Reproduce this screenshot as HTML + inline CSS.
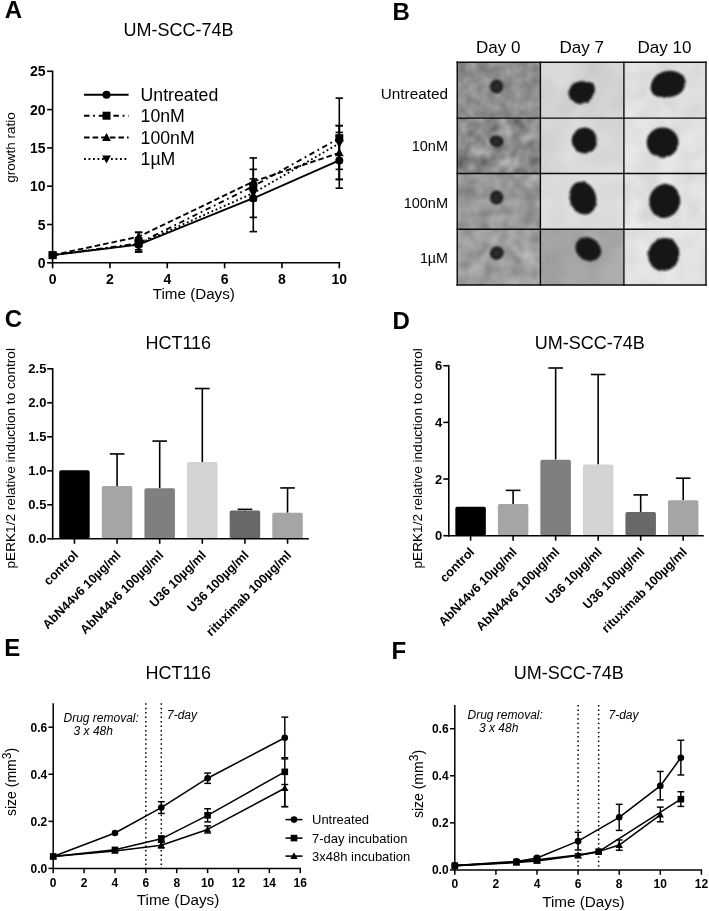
<!DOCTYPE html>
<html><head><meta charset="utf-8"><title>Figure</title>
<style>html,body{margin:0;padding:0;background:#fff;}svg{display:block;will-change:transform;}svg text{font-family:"Liberation Sans",sans-serif;}</style></head>
<body>
<svg width="709" height="911" viewBox="0 0 709 911" fill="#000">
<rect width="709" height="911" fill="#fff"/>
<text x="4.65" y="17.90" font-size="24" text-anchor="start" font-weight="bold" font-style="normal" >A</text>
<text x="392.40" y="20.10" font-size="24" text-anchor="start" font-weight="bold" font-style="normal" >B</text>
<text x="4.65" y="327.20" font-size="24" text-anchor="start" font-weight="bold" font-style="normal" >C</text>
<text x="392.40" y="329.20" font-size="24" text-anchor="start" font-weight="bold" font-style="normal" >D</text>
<text x="4.35" y="656.10" font-size="24" text-anchor="start" font-weight="bold" font-style="normal" >E</text>
<text x="391.40" y="658.90" font-size="24" text-anchor="start" font-weight="bold" font-style="normal" >F</text>
<text x="178.60" y="35.50" font-size="18" text-anchor="middle" font-weight="normal" font-style="normal" >UM-SCC-74B</text>
<line x1="52.60" y1="70.55" x2="52.60" y2="263.55" stroke="#000" stroke-width="1.6" stroke-linecap="butt"/>
<line x1="51.80" y1="262.80" x2="340.10" y2="262.80" stroke="#000" stroke-width="1.6" stroke-linecap="butt"/>
<line x1="47.10" y1="262.80" x2="52.60" y2="262.80" stroke="#000" stroke-width="1.6" stroke-linecap="butt"/>
<text x="45.60" y="267.80" font-size="14" text-anchor="end" font-weight="bold" font-style="normal" >0</text>
<line x1="47.10" y1="224.50" x2="52.60" y2="224.50" stroke="#000" stroke-width="1.6" stroke-linecap="butt"/>
<text x="45.60" y="229.50" font-size="14" text-anchor="end" font-weight="bold" font-style="normal" >5</text>
<line x1="47.10" y1="186.20" x2="52.60" y2="186.20" stroke="#000" stroke-width="1.6" stroke-linecap="butt"/>
<text x="45.60" y="191.20" font-size="14" text-anchor="end" font-weight="bold" font-style="normal" >10</text>
<line x1="47.10" y1="147.90" x2="52.60" y2="147.90" stroke="#000" stroke-width="1.6" stroke-linecap="butt"/>
<text x="45.60" y="152.90" font-size="14" text-anchor="end" font-weight="bold" font-style="normal" >15</text>
<line x1="47.10" y1="109.60" x2="52.60" y2="109.60" stroke="#000" stroke-width="1.6" stroke-linecap="butt"/>
<text x="45.60" y="114.60" font-size="14" text-anchor="end" font-weight="bold" font-style="normal" >20</text>
<line x1="47.10" y1="71.30" x2="52.60" y2="71.30" stroke="#000" stroke-width="1.6" stroke-linecap="butt"/>
<text x="45.60" y="76.30" font-size="14" text-anchor="end" font-weight="bold" font-style="normal" >25</text>
<line x1="52.60" y1="262.80" x2="52.60" y2="268.30" stroke="#000" stroke-width="1.6" stroke-linecap="butt"/>
<text x="52.60" y="284.20" font-size="14" text-anchor="middle" font-weight="bold" font-style="normal" >0</text>
<line x1="109.94" y1="262.80" x2="109.94" y2="268.30" stroke="#000" stroke-width="1.6" stroke-linecap="butt"/>
<text x="109.94" y="284.20" font-size="14" text-anchor="middle" font-weight="bold" font-style="normal" >2</text>
<line x1="167.28" y1="262.80" x2="167.28" y2="268.30" stroke="#000" stroke-width="1.6" stroke-linecap="butt"/>
<text x="167.28" y="284.20" font-size="14" text-anchor="middle" font-weight="bold" font-style="normal" >4</text>
<line x1="224.62" y1="262.80" x2="224.62" y2="268.30" stroke="#000" stroke-width="1.6" stroke-linecap="butt"/>
<text x="224.62" y="284.20" font-size="14" text-anchor="middle" font-weight="bold" font-style="normal" >6</text>
<line x1="281.96" y1="262.80" x2="281.96" y2="268.30" stroke="#000" stroke-width="1.6" stroke-linecap="butt"/>
<text x="281.96" y="284.20" font-size="14" text-anchor="middle" font-weight="bold" font-style="normal" >8</text>
<line x1="339.30" y1="262.80" x2="339.30" y2="268.30" stroke="#000" stroke-width="1.6" stroke-linecap="butt"/>
<text x="339.30" y="284.20" font-size="14" text-anchor="middle" font-weight="bold" font-style="normal" >10</text>
<text x="193.80" y="299.00" font-size="15.2" text-anchor="middle" font-weight="normal" font-style="normal" >Time (Days)</text>
<text x="14.50" y="147.50" font-size="13.5" text-anchor="middle" font-weight="normal" font-style="normal" transform="rotate(-90 14.50 147.50)" >growth ratio</text>
<line x1="138.61" y1="251.54" x2="138.61" y2="237.75" stroke="#000" stroke-width="1.6" stroke-linecap="butt"/>
<line x1="134.91" y1="251.54" x2="142.31" y2="251.54" stroke="#000" stroke-width="1.6" stroke-linecap="butt"/>
<line x1="134.91" y1="237.75" x2="142.31" y2="237.75" stroke="#000" stroke-width="1.6" stroke-linecap="butt"/>
<line x1="253.29" y1="231.62" x2="253.29" y2="169.35" stroke="#000" stroke-width="1.6" stroke-linecap="butt"/>
<line x1="249.59" y1="231.62" x2="256.99" y2="231.62" stroke="#000" stroke-width="1.6" stroke-linecap="butt"/>
<line x1="249.59" y1="169.35" x2="256.99" y2="169.35" stroke="#000" stroke-width="1.6" stroke-linecap="butt"/>
<line x1="339.30" y1="188.19" x2="339.30" y2="132.43" stroke="#000" stroke-width="1.6" stroke-linecap="butt"/>
<line x1="335.60" y1="188.19" x2="343.00" y2="188.19" stroke="#000" stroke-width="1.6" stroke-linecap="butt"/>
<line x1="335.60" y1="132.43" x2="343.00" y2="132.43" stroke="#000" stroke-width="1.6" stroke-linecap="butt"/>
<line x1="138.61" y1="252.08" x2="138.61" y2="232.16" stroke="#000" stroke-width="1.6" stroke-linecap="butt"/>
<line x1="134.91" y1="252.08" x2="142.31" y2="252.08" stroke="#000" stroke-width="1.6" stroke-linecap="butt"/>
<line x1="134.91" y1="232.16" x2="142.31" y2="232.16" stroke="#000" stroke-width="1.6" stroke-linecap="butt"/>
<line x1="253.29" y1="217.38" x2="253.29" y2="157.93" stroke="#000" stroke-width="1.6" stroke-linecap="butt"/>
<line x1="249.59" y1="217.38" x2="256.99" y2="217.38" stroke="#000" stroke-width="1.6" stroke-linecap="butt"/>
<line x1="249.59" y1="157.93" x2="256.99" y2="157.93" stroke="#000" stroke-width="1.6" stroke-linecap="butt"/>
<line x1="339.30" y1="179.54" x2="339.30" y2="98.11" stroke="#000" stroke-width="1.6" stroke-linecap="butt"/>
<line x1="335.60" y1="179.54" x2="343.00" y2="179.54" stroke="#000" stroke-width="1.6" stroke-linecap="butt"/>
<line x1="335.60" y1="98.11" x2="343.00" y2="98.11" stroke="#000" stroke-width="1.6" stroke-linecap="butt"/>
<line x1="138.61" y1="240.97" x2="138.61" y2="232.54" stroke="#000" stroke-width="1.6" stroke-linecap="butt"/>
<line x1="134.91" y1="240.97" x2="142.31" y2="240.97" stroke="#000" stroke-width="1.6" stroke-linecap="butt"/>
<line x1="134.91" y1="232.54" x2="142.31" y2="232.54" stroke="#000" stroke-width="1.6" stroke-linecap="butt"/>
<line x1="253.29" y1="188.50" x2="253.29" y2="178.92" stroke="#000" stroke-width="1.6" stroke-linecap="butt"/>
<line x1="249.59" y1="188.50" x2="256.99" y2="188.50" stroke="#000" stroke-width="1.6" stroke-linecap="butt"/>
<line x1="249.59" y1="178.92" x2="256.99" y2="178.92" stroke="#000" stroke-width="1.6" stroke-linecap="butt"/>
<line x1="339.30" y1="179.31" x2="339.30" y2="125.61" stroke="#000" stroke-width="1.6" stroke-linecap="butt"/>
<line x1="335.60" y1="179.31" x2="343.00" y2="179.31" stroke="#000" stroke-width="1.6" stroke-linecap="butt"/>
<line x1="335.60" y1="125.61" x2="343.00" y2="125.61" stroke="#000" stroke-width="1.6" stroke-linecap="butt"/>
<line x1="138.61" y1="249.78" x2="138.61" y2="237.91" stroke="#000" stroke-width="1.6" stroke-linecap="butt"/>
<line x1="134.91" y1="249.78" x2="142.31" y2="249.78" stroke="#000" stroke-width="1.6" stroke-linecap="butt"/>
<line x1="134.91" y1="237.91" x2="142.31" y2="237.91" stroke="#000" stroke-width="1.6" stroke-linecap="butt"/>
<line x1="253.29" y1="200.75" x2="253.29" y2="185.43" stroke="#000" stroke-width="1.6" stroke-linecap="butt"/>
<line x1="249.59" y1="200.75" x2="256.99" y2="200.75" stroke="#000" stroke-width="1.6" stroke-linecap="butt"/>
<line x1="249.59" y1="185.43" x2="256.99" y2="185.43" stroke="#000" stroke-width="1.6" stroke-linecap="butt"/>
<line x1="339.30" y1="169.35" x2="339.30" y2="125.69" stroke="#000" stroke-width="1.6" stroke-linecap="butt"/>
<line x1="335.60" y1="169.35" x2="343.00" y2="169.35" stroke="#000" stroke-width="1.6" stroke-linecap="butt"/>
<line x1="335.60" y1="125.69" x2="343.00" y2="125.69" stroke="#000" stroke-width="1.6" stroke-linecap="butt"/>
<polyline points="52.60,255.14 138.61,244.65 253.29,198.23 339.30,160.46" fill="none" stroke="#000" stroke-width="1.9" stroke-linejoin="round"/>
<polyline points="52.60,255.14 138.61,243.27 253.29,186.20 339.30,138.17" fill="none" stroke="#000" stroke-width="1.9" stroke-linejoin="round" stroke-dasharray="5.5 3.7 1.8 3.7"/>
<polyline points="52.60,255.14 138.61,236.76 253.29,181.60 339.30,152.80" fill="none" stroke="#000" stroke-width="1.9" stroke-linejoin="round" stroke-dasharray="5.6 3"/>
<polyline points="52.60,255.14 138.61,244.03 253.29,193.09 339.30,143.30" fill="none" stroke="#000" stroke-width="1.9" stroke-linejoin="round" stroke-dasharray="1.8 2.7"/>
<circle cx="52.60" cy="255.14" r="4.0" fill="#000"/>
<circle cx="138.61" cy="244.65" r="4.0" fill="#000"/>
<circle cx="253.29" cy="198.23" r="4.0" fill="#000"/>
<circle cx="339.30" cy="160.46" r="4.0" fill="#000"/>
<rect x="48.60" y="251.14" width="8.0" height="8.0" fill="#000"/>
<rect x="134.61" y="239.27" width="8.0" height="8.0" fill="#000"/>
<rect x="249.29" y="182.20" width="8.0" height="8.0" fill="#000"/>
<rect x="335.30" y="134.17" width="8.0" height="8.0" fill="#000"/>
<polygon points="52.60,250.54 48.20,258.54 57.00,258.54" fill="#000"/>
<polygon points="138.61,232.16 134.21,240.16 143.01,240.16" fill="#000"/>
<polygon points="253.29,177.00 248.89,185.00 257.69,185.00" fill="#000"/>
<polygon points="339.30,148.20 334.90,156.20 343.70,156.20" fill="#000"/>
<polygon points="52.60,259.74 48.20,251.74 57.00,251.74" fill="#000"/>
<polygon points="138.61,248.63 134.21,240.63 143.01,240.63" fill="#000"/>
<polygon points="253.29,197.69 248.89,189.69 257.69,189.69" fill="#000"/>
<polygon points="339.30,147.90 334.90,139.90 343.70,139.90" fill="#000"/>
<line x1="84.00" y1="94.70" x2="128.60" y2="94.70" stroke="#000" stroke-width="1.9" stroke-linecap="butt"/>
<circle cx="106.50" cy="94.70" r="4.0" fill="#000"/>
<text x="140.60" y="101.00" font-size="17.7" text-anchor="start" font-weight="normal" font-style="normal" >Untreated</text>
<line x1="84.00" y1="115.70" x2="128.60" y2="115.70" stroke="#000" stroke-width="1.9" stroke-linecap="butt" stroke-dasharray="5.5 3.7 1.8 3.7"/>
<rect x="102.50" y="111.70" width="8.0" height="8.0" fill="#000"/>
<text x="140.60" y="122.00" font-size="17.7" text-anchor="start" font-weight="normal" font-style="normal" >10nM</text>
<line x1="84.00" y1="137.50" x2="128.60" y2="137.50" stroke="#000" stroke-width="1.9" stroke-linecap="butt" stroke-dasharray="5.6 3"/>
<polygon points="106.50,132.90 102.10,140.90 110.90,140.90" fill="#000"/>
<text x="140.60" y="143.80" font-size="17.7" text-anchor="start" font-weight="normal" font-style="normal" >100nM</text>
<line x1="84.00" y1="159.00" x2="128.60" y2="159.00" stroke="#000" stroke-width="1.9" stroke-linecap="butt" stroke-dasharray="1.8 2.7"/>
<polygon points="106.50,163.60 102.10,155.60 110.90,155.60" fill="#000"/>
<text x="140.60" y="165.30" font-size="17.7" text-anchor="start" font-weight="normal" font-style="normal" >1µM</text>
<defs>
<filter id="n00" x="0" y="0" width="100%" height="100%" color-interpolation-filters="sRGB"><feTurbulence type="fractalNoise" baseFrequency="0.09" numOctaves="2" seed="3"/><feColorMatrix type="matrix" values="0.25 0 0 0 0.430  0.25 0 0 0 0.430  0.25 0 0 0 0.430  0 0 0 0 1"/></filter>
<filter id="n01" x="0" y="0" width="100%" height="100%" color-interpolation-filters="sRGB"><feTurbulence type="fractalNoise" baseFrequency="0.035" numOctaves="2" seed="11"/><feColorMatrix type="matrix" values="0.13 0 0 0 0.760  0.13 0 0 0 0.760  0.13 0 0 0 0.760  0 0 0 0 1"/></filter>
<filter id="n02" x="0" y="0" width="100%" height="100%" color-interpolation-filters="sRGB"><feTurbulence type="fractalNoise" baseFrequency="0.05" numOctaves="2" seed="21"/><feColorMatrix type="matrix" values="0.13 0 0 0 0.805  0.13 0 0 0 0.805  0.13 0 0 0 0.805  0 0 0 0 1"/></filter>
<filter id="n10" x="0" y="0" width="100%" height="100%" color-interpolation-filters="sRGB"><feTurbulence type="fractalNoise" baseFrequency="0.07" numOctaves="2" seed="5"/><feColorMatrix type="matrix" values="0.5 0 0 0 0.290  0.5 0 0 0 0.290  0.5 0 0 0 0.290  0 0 0 0 1"/></filter>
<filter id="n11" x="0" y="0" width="100%" height="100%" color-interpolation-filters="sRGB"><feTurbulence type="fractalNoise" baseFrequency="0.03" numOctaves="2" seed="12"/><feColorMatrix type="matrix" values="0.1 0 0 0 0.800  0.1 0 0 0 0.800  0.1 0 0 0 0.800  0 0 0 0 1"/></filter>
<filter id="n12" x="0" y="0" width="100%" height="100%" color-interpolation-filters="sRGB"><feTurbulence type="fractalNoise" baseFrequency="0.05" numOctaves="2" seed="22"/><feColorMatrix type="matrix" values="0.1 0 0 0 0.835  0.1 0 0 0 0.835  0.1 0 0 0 0.835  0 0 0 0 1"/></filter>
<filter id="n20" x="0" y="0" width="100%" height="100%" color-interpolation-filters="sRGB"><feTurbulence type="fractalNoise" baseFrequency="0.065" numOctaves="2" seed="7"/><feColorMatrix type="matrix" values="0.32 0 0 0 0.435  0.32 0 0 0 0.435  0.32 0 0 0 0.435  0 0 0 0 1"/></filter>
<filter id="n21" x="0" y="0" width="100%" height="100%" color-interpolation-filters="sRGB"><feTurbulence type="fractalNoise" baseFrequency="0.03" numOctaves="2" seed="13"/><feColorMatrix type="matrix" values="0.1 0 0 0 0.815  0.1 0 0 0 0.815  0.1 0 0 0 0.815  0 0 0 0 1"/></filter>
<filter id="n22" x="0" y="0" width="100%" height="100%" color-interpolation-filters="sRGB"><feTurbulence type="fractalNoise" baseFrequency="0.05" numOctaves="2" seed="23"/><feColorMatrix type="matrix" values="0.13 0 0 0 0.815  0.13 0 0 0 0.815  0.13 0 0 0 0.815  0 0 0 0 1"/></filter>
<filter id="n30" x="0" y="0" width="100%" height="100%" color-interpolation-filters="sRGB"><feTurbulence type="fractalNoise" baseFrequency="0.065" numOctaves="2" seed="9"/><feColorMatrix type="matrix" values="0.3 0 0 0 0.475  0.3 0 0 0 0.475  0.3 0 0 0 0.475  0 0 0 0 1"/></filter>
<filter id="n31" x="0" y="0" width="100%" height="100%" color-interpolation-filters="sRGB"><feTurbulence type="fractalNoise" baseFrequency="0.03" numOctaves="2" seed="14"/><feColorMatrix type="matrix" values="0.16 0 0 0 0.565  0.16 0 0 0 0.565  0.16 0 0 0 0.565  0 0 0 0 1"/></filter>
<filter id="n32" x="0" y="0" width="100%" height="100%" color-interpolation-filters="sRGB"><feTurbulence type="fractalNoise" baseFrequency="0.05" numOctaves="2" seed="24"/><feColorMatrix type="matrix" values="0.1 0 0 0 0.840  0.1 0 0 0 0.840  0.1 0 0 0 0.840  0 0 0 0 1"/></filter>
<filter id="bl" x="-5%" y="-5%" width="110%" height="110%"><feTurbulence type="fractalNoise" baseFrequency="0.22" numOctaves="2" seed="4" result="t"/><feDisplacementMap in="SourceGraphic" in2="t" scale="2.4" xChannelSelector="R" yChannelSelector="G"/><feGaussianBlur stdDeviation="0.95"/></filter>
<filter id="bl2" x="-5%" y="-5%" width="110%" height="110%"><feTurbulence type="fractalNoise" baseFrequency="0.4" numOctaves="2" seed="6" result="t"/><feDisplacementMap in="SourceGraphic" in2="t" scale="1.5" xChannelSelector="R" yChannelSelector="G"/><feGaussianBlur stdDeviation="0.8"/></filter>
<radialGradient id="sg"><stop offset="0" stop-color="#303030"/><stop offset="0.6" stop-color="#242424"/><stop offset="1" stop-color="#161616"/></radialGradient>
</defs>
<rect x="457.2" y="62.3" width="83.20" height="55.80" fill="#999" filter="url(#n00)"/>
<rect x="540.4" y="62.3" width="83.50" height="55.80" fill="#999" filter="url(#n01)"/>
<rect x="623.9" y="62.3" width="82.10" height="55.80" fill="#999" filter="url(#n02)"/>
<rect x="457.2" y="118.1" width="83.20" height="55.40" fill="#999" filter="url(#n10)"/>
<rect x="540.4" y="118.1" width="83.50" height="55.40" fill="#999" filter="url(#n11)"/>
<rect x="623.9" y="118.1" width="82.10" height="55.40" fill="#999" filter="url(#n12)"/>
<rect x="457.2" y="173.5" width="83.20" height="55.80" fill="#999" filter="url(#n20)"/>
<rect x="540.4" y="173.5" width="83.50" height="55.80" fill="#999" filter="url(#n21)"/>
<rect x="623.9" y="173.5" width="82.10" height="55.80" fill="#999" filter="url(#n22)"/>
<rect x="457.2" y="229.3" width="83.20" height="55.70" fill="#999" filter="url(#n30)"/>
<rect x="540.4" y="229.3" width="83.50" height="55.70" fill="#999" filter="url(#n31)"/>
<rect x="623.9" y="229.3" width="82.10" height="55.70" fill="#999" filter="url(#n32)"/>
<g filter="url(#bl2)">
<ellipse cx="496.6" cy="86.6" rx="6.4" ry="6.8" fill="url(#sg)" transform="rotate(0 496.6 86.6)"/>
<ellipse cx="496.5" cy="141.2" rx="7.0" ry="5.7" fill="url(#sg)" transform="rotate(15 496.5 141.2)"/>
<ellipse cx="496.6" cy="197.6" rx="6.6" ry="7.0" fill="url(#sg)" transform="rotate(0 496.6 197.6)"/>
<ellipse cx="496.8" cy="253" rx="7.0" ry="6.5" fill="url(#sg)" transform="rotate(-30 496.8 253)"/>
</g>
<g filter="url(#bl)">
<ellipse cx="581.0" cy="92.6" rx="12.6" ry="11.2" fill="#151515" transform="rotate(-10 581.0 92.6)"/>
<ellipse cx="588.5" cy="89.5" rx="6.5" ry="7.5" fill="#151515" transform="rotate(0 588.5 89.5)"/>
<ellipse cx="668.6" cy="84.0" rx="17.2" ry="13.2" fill="#151515" transform="rotate(-8 668.6 84.0)"/>
<ellipse cx="660" cy="87.5" rx="9.5" ry="9.5" fill="#151515" transform="rotate(0 660 87.5)"/>
<ellipse cx="584.6" cy="140.5" rx="12.8" ry="13" fill="#151515" transform="rotate(0 584.6 140.5)"/>
<ellipse cx="662.6" cy="142.6" rx="15.9" ry="15.2" fill="#151515" transform="rotate(0 662.6 142.6)"/>
<ellipse cx="582.9" cy="198.1" rx="13.2" ry="16.6" fill="#151515" transform="rotate(-18 582.9 198.1)"/>
<ellipse cx="664.6" cy="201" rx="15.4" ry="17" fill="#151515" transform="rotate(12 664.6 201)"/>
<ellipse cx="588.3" cy="249.2" rx="13.4" ry="11.2" fill="#151515" transform="rotate(32 588.3 249.2)"/>
<ellipse cx="663.8" cy="254.6" rx="15.4" ry="16.6" fill="#151515" transform="rotate(20 663.8 254.6)"/>
<ellipse cx="669.5" cy="243" rx="5" ry="4.5" fill="#151515" transform="rotate(0 669.5 243)"/>
</g>
<line x1="457.20" y1="61.60" x2="457.20" y2="285.70" stroke="#0a0a0a" stroke-width="1.4" stroke-linecap="butt"/>
<line x1="540.40" y1="61.60" x2="540.40" y2="285.70" stroke="#0a0a0a" stroke-width="1.4" stroke-linecap="butt"/>
<line x1="623.90" y1="61.60" x2="623.90" y2="285.70" stroke="#0a0a0a" stroke-width="1.4" stroke-linecap="butt"/>
<line x1="706.00" y1="61.60" x2="706.00" y2="285.70" stroke="#0a0a0a" stroke-width="1.4" stroke-linecap="butt"/>
<line x1="456.50" y1="62.30" x2="706.70" y2="62.30" stroke="#0a0a0a" stroke-width="1.4" stroke-linecap="butt"/>
<line x1="456.50" y1="118.10" x2="706.70" y2="118.10" stroke="#0a0a0a" stroke-width="1.4" stroke-linecap="butt"/>
<line x1="456.50" y1="173.50" x2="706.70" y2="173.50" stroke="#0a0a0a" stroke-width="1.4" stroke-linecap="butt"/>
<line x1="456.50" y1="229.30" x2="706.70" y2="229.30" stroke="#0a0a0a" stroke-width="1.4" stroke-linecap="butt"/>
<line x1="456.50" y1="285.00" x2="706.70" y2="285.00" stroke="#0a0a0a" stroke-width="1.4" stroke-linecap="butt"/>
<text x="498.30" y="52.60" font-size="17.0" text-anchor="middle" font-weight="normal" font-style="normal" >Day 0</text>
<text x="581.65" y="52.60" font-size="17.0" text-anchor="middle" font-weight="normal" font-style="normal" >Day 7</text>
<text x="664.45" y="52.60" font-size="17.0" text-anchor="middle" font-weight="normal" font-style="normal" >Day 10</text>
<text x="448.00" y="99.10" font-size="15.3" text-anchor="end" font-weight="normal" font-style="normal" >Untreated</text>
<text x="448.00" y="150.90" font-size="14.5" text-anchor="end" font-weight="normal" font-style="normal" >10nM</text>
<text x="448.00" y="207.70" font-size="14.5" text-anchor="end" font-weight="normal" font-style="normal" >100nM</text>
<text x="448.00" y="262.50" font-size="14.3" text-anchor="end" font-weight="normal" font-style="normal" >1µM</text>
<text x="178.30" y="349.30" font-size="18" text-anchor="middle" font-weight="normal" font-style="normal" >HCT116</text>
<rect x="59.20" y="470.26" width="30.5" height="68.54" fill="#000" rx="1.8"/>
<line x1="74.45" y1="538.80" x2="74.45" y2="543.80" stroke="#000" stroke-width="1.6" stroke-linecap="butt"/>
<text x="78.95" y="555.80" font-size="12.6" text-anchor="end" font-weight="bold" font-style="normal" transform="rotate(-45 78.95 555.80)" >control</text>
<line x1="117.07" y1="486.03" x2="117.07" y2="453.94" stroke="#000" stroke-width="1.6" stroke-linecap="butt"/>
<line x1="109.77" y1="453.94" x2="124.37" y2="453.94" stroke="#000" stroke-width="1.6" stroke-linecap="butt"/>
<rect x="101.82" y="486.03" width="30.5" height="52.77" fill="#a5a5a8" rx="1.8"/>
<line x1="117.07" y1="538.80" x2="117.07" y2="543.80" stroke="#000" stroke-width="1.6" stroke-linecap="butt"/>
<text x="121.57" y="555.80" font-size="12.6" text-anchor="end" font-weight="bold" font-style="normal" transform="rotate(-45 121.57 555.80)" >AbN44v6 10µg/ml</text>
<line x1="159.69" y1="488.14" x2="159.69" y2="441.08" stroke="#000" stroke-width="1.6" stroke-linecap="butt"/>
<line x1="152.39" y1="441.08" x2="166.99" y2="441.08" stroke="#000" stroke-width="1.6" stroke-linecap="butt"/>
<rect x="144.44" y="488.14" width="30.5" height="50.66" fill="#7f7f7f" rx="1.8"/>
<line x1="159.69" y1="538.80" x2="159.69" y2="543.80" stroke="#000" stroke-width="1.6" stroke-linecap="butt"/>
<text x="164.19" y="555.80" font-size="12.6" text-anchor="end" font-weight="bold" font-style="normal" transform="rotate(-45 164.19 555.80)" >AbN44v6 100µg/ml</text>
<line x1="202.31" y1="462.10" x2="202.31" y2="388.52" stroke="#000" stroke-width="1.6" stroke-linecap="butt"/>
<line x1="195.01" y1="388.52" x2="209.61" y2="388.52" stroke="#000" stroke-width="1.6" stroke-linecap="butt"/>
<rect x="187.06" y="462.10" width="30.5" height="76.70" fill="#d3d3d3" rx="1.8"/>
<line x1="202.31" y1="538.80" x2="202.31" y2="543.80" stroke="#000" stroke-width="1.6" stroke-linecap="butt"/>
<text x="206.81" y="555.80" font-size="12.6" text-anchor="end" font-weight="bold" font-style="normal" transform="rotate(-45 206.81 555.80)" >U36 10µg/ml</text>
<line x1="244.93" y1="510.38" x2="244.93" y2="509.36" stroke="#000" stroke-width="1.6" stroke-linecap="butt"/>
<line x1="237.63" y1="509.36" x2="252.23" y2="509.36" stroke="#000" stroke-width="1.6" stroke-linecap="butt"/>
<rect x="229.68" y="510.38" width="30.5" height="28.42" fill="#686868" rx="1.8"/>
<line x1="244.93" y1="538.80" x2="244.93" y2="543.80" stroke="#000" stroke-width="1.6" stroke-linecap="butt"/>
<text x="249.43" y="555.80" font-size="12.6" text-anchor="end" font-weight="bold" font-style="normal" transform="rotate(-45 249.43 555.80)" >U36 100µg/ml</text>
<line x1="287.55" y1="512.76" x2="287.55" y2="487.94" stroke="#000" stroke-width="1.6" stroke-linecap="butt"/>
<line x1="280.25" y1="487.94" x2="294.85" y2="487.94" stroke="#000" stroke-width="1.6" stroke-linecap="butt"/>
<rect x="272.30" y="512.76" width="30.5" height="26.04" fill="#a5a5a8" rx="1.8"/>
<line x1="287.55" y1="538.80" x2="287.55" y2="543.80" stroke="#000" stroke-width="1.6" stroke-linecap="butt"/>
<text x="292.05" y="555.80" font-size="12.6" text-anchor="end" font-weight="bold" font-style="normal" transform="rotate(-45 292.05 555.80)" >rituximab 100µg/ml</text>
<line x1="52.70" y1="368.00" x2="52.70" y2="539.60" stroke="#000" stroke-width="1.6" stroke-linecap="butt"/>
<line x1="51.90" y1="538.80" x2="308.80" y2="538.80" stroke="#000" stroke-width="1.6" stroke-linecap="butt"/>
<line x1="47.20" y1="538.80" x2="52.70" y2="538.80" stroke="#000" stroke-width="1.6" stroke-linecap="butt"/>
<text x="46.40" y="543.40" font-size="13" text-anchor="end" font-weight="bold" font-style="normal" >0.0</text>
<line x1="47.20" y1="504.80" x2="52.70" y2="504.80" stroke="#000" stroke-width="1.6" stroke-linecap="butt"/>
<text x="46.40" y="509.40" font-size="13" text-anchor="end" font-weight="bold" font-style="normal" >0.5</text>
<line x1="47.20" y1="470.80" x2="52.70" y2="470.80" stroke="#000" stroke-width="1.6" stroke-linecap="butt"/>
<text x="46.40" y="475.40" font-size="13" text-anchor="end" font-weight="bold" font-style="normal" >1.0</text>
<line x1="47.20" y1="436.80" x2="52.70" y2="436.80" stroke="#000" stroke-width="1.6" stroke-linecap="butt"/>
<text x="46.40" y="441.40" font-size="13" text-anchor="end" font-weight="bold" font-style="normal" >1.5</text>
<line x1="47.20" y1="402.80" x2="52.70" y2="402.80" stroke="#000" stroke-width="1.6" stroke-linecap="butt"/>
<text x="46.40" y="407.40" font-size="13" text-anchor="end" font-weight="bold" font-style="normal" >2.0</text>
<line x1="47.20" y1="368.80" x2="52.70" y2="368.80" stroke="#000" stroke-width="1.6" stroke-linecap="butt"/>
<text x="46.40" y="373.40" font-size="13" text-anchor="end" font-weight="bold" font-style="normal" >2.5</text>
<text x="14.80" y="458.30" font-size="13.63" text-anchor="middle" font-weight="normal" font-style="normal" transform="rotate(-90 14.80 458.30)" >pERK1/2 relative induction to control</text>
<text x="589.70" y="349.20" font-size="18" text-anchor="middle" font-weight="normal" font-style="normal" >UM-SCC-74B</text>
<rect x="455.35" y="506.66" width="30.5" height="29.04" fill="#000" rx="1.8"/>
<line x1="470.60" y1="535.70" x2="470.60" y2="540.70" stroke="#000" stroke-width="1.6" stroke-linecap="butt"/>
<text x="475.10" y="552.70" font-size="12.6" text-anchor="end" font-weight="bold" font-style="normal" transform="rotate(-45 475.10 552.70)" >control</text>
<line x1="513.12" y1="504.11" x2="513.12" y2="490.37" stroke="#000" stroke-width="1.6" stroke-linecap="butt"/>
<line x1="505.82" y1="490.37" x2="520.42" y2="490.37" stroke="#000" stroke-width="1.6" stroke-linecap="butt"/>
<rect x="497.87" y="504.11" width="30.5" height="31.59" fill="#a5a5a8" rx="1.8"/>
<line x1="513.12" y1="535.70" x2="513.12" y2="540.70" stroke="#000" stroke-width="1.6" stroke-linecap="butt"/>
<text x="517.62" y="552.70" font-size="12.6" text-anchor="end" font-weight="bold" font-style="normal" transform="rotate(-45 517.62 552.70)" >AbN44v6 10µg/ml</text>
<line x1="555.64" y1="459.63" x2="555.64" y2="367.99" stroke="#000" stroke-width="1.6" stroke-linecap="butt"/>
<line x1="548.34" y1="367.99" x2="562.94" y2="367.99" stroke="#000" stroke-width="1.6" stroke-linecap="butt"/>
<rect x="540.39" y="459.63" width="30.5" height="76.07" fill="#7f7f7f" rx="1.8"/>
<line x1="555.64" y1="535.70" x2="555.64" y2="540.70" stroke="#000" stroke-width="1.6" stroke-linecap="butt"/>
<text x="560.14" y="552.70" font-size="12.6" text-anchor="end" font-weight="bold" font-style="normal" transform="rotate(-45 560.14 552.70)" >AbN44v6 100µg/ml</text>
<line x1="598.16" y1="464.45" x2="598.16" y2="374.50" stroke="#000" stroke-width="1.6" stroke-linecap="butt"/>
<line x1="590.86" y1="374.50" x2="605.46" y2="374.50" stroke="#000" stroke-width="1.6" stroke-linecap="butt"/>
<rect x="582.91" y="464.45" width="30.5" height="71.25" fill="#d3d3d3" rx="1.8"/>
<line x1="598.16" y1="535.70" x2="598.16" y2="540.70" stroke="#000" stroke-width="1.6" stroke-linecap="butt"/>
<text x="602.66" y="552.70" font-size="12.6" text-anchor="end" font-weight="bold" font-style="normal" transform="rotate(-45 602.66 552.70)" >U36 10µg/ml</text>
<line x1="640.68" y1="511.90" x2="640.68" y2="494.90" stroke="#000" stroke-width="1.6" stroke-linecap="butt"/>
<line x1="633.38" y1="494.90" x2="647.98" y2="494.90" stroke="#000" stroke-width="1.6" stroke-linecap="butt"/>
<rect x="625.43" y="511.90" width="30.5" height="23.80" fill="#686868" rx="1.8"/>
<line x1="640.68" y1="535.70" x2="640.68" y2="540.70" stroke="#000" stroke-width="1.6" stroke-linecap="butt"/>
<text x="645.18" y="552.70" font-size="12.6" text-anchor="end" font-weight="bold" font-style="normal" transform="rotate(-45 645.18 552.70)" >U36 100µg/ml</text>
<line x1="683.20" y1="500.15" x2="683.20" y2="478.19" stroke="#000" stroke-width="1.6" stroke-linecap="butt"/>
<line x1="675.90" y1="478.19" x2="690.50" y2="478.19" stroke="#000" stroke-width="1.6" stroke-linecap="butt"/>
<rect x="667.95" y="500.15" width="30.5" height="35.55" fill="#a5a5a8" rx="1.8"/>
<line x1="683.20" y1="535.70" x2="683.20" y2="540.70" stroke="#000" stroke-width="1.6" stroke-linecap="butt"/>
<text x="687.70" y="552.70" font-size="12.6" text-anchor="end" font-weight="bold" font-style="normal" transform="rotate(-45 687.70 552.70)" >rituximab 100µg/ml</text>
<line x1="448.80" y1="364.92" x2="448.80" y2="536.50" stroke="#000" stroke-width="1.6" stroke-linecap="butt"/>
<line x1="448.00" y1="535.70" x2="703.80" y2="535.70" stroke="#000" stroke-width="1.6" stroke-linecap="butt"/>
<line x1="443.30" y1="535.70" x2="448.80" y2="535.70" stroke="#000" stroke-width="1.6" stroke-linecap="butt"/>
<text x="442.20" y="540.30" font-size="13" text-anchor="end" font-weight="bold" font-style="normal" >0</text>
<line x1="443.30" y1="479.04" x2="448.80" y2="479.04" stroke="#000" stroke-width="1.6" stroke-linecap="butt"/>
<text x="442.20" y="483.64" font-size="13" text-anchor="end" font-weight="bold" font-style="normal" >2</text>
<line x1="443.30" y1="422.38" x2="448.80" y2="422.38" stroke="#000" stroke-width="1.6" stroke-linecap="butt"/>
<text x="442.20" y="426.98" font-size="13" text-anchor="end" font-weight="bold" font-style="normal" >4</text>
<line x1="443.30" y1="365.72" x2="448.80" y2="365.72" stroke="#000" stroke-width="1.6" stroke-linecap="butt"/>
<text x="442.20" y="370.32" font-size="13" text-anchor="end" font-weight="bold" font-style="normal" >6</text>
<text x="422.40" y="458.30" font-size="13.63" text-anchor="middle" font-weight="normal" font-style="normal" transform="rotate(-90 422.40 458.30)" >pERK1/2 relative induction to control</text>
<text x="178.30" y="679.30" font-size="18" text-anchor="middle" font-weight="normal" font-style="normal" >HCT116</text>
<line x1="145.84" y1="703.22" x2="145.84" y2="868.40" stroke="#000" stroke-width="1.5" stroke-linecap="butt" stroke-dasharray="1.5 2.95"/>
<line x1="161.28" y1="703.22" x2="161.28" y2="868.40" stroke="#000" stroke-width="1.5" stroke-linecap="butt" stroke-dasharray="1.5 2.95"/>
<line x1="53.20" y1="703.22" x2="53.20" y2="869.10" stroke="#000" stroke-width="1.5" stroke-linecap="butt"/>
<line x1="52.50" y1="868.40" x2="300.94" y2="868.40" stroke="#000" stroke-width="1.5" stroke-linecap="butt"/>
<line x1="48.40" y1="868.40" x2="53.20" y2="868.40" stroke="#000" stroke-width="1.5" stroke-linecap="butt"/>
<text x="47.20" y="872.70" font-size="12" text-anchor="end" font-weight="bold" font-style="normal" >0.0</text>
<line x1="48.40" y1="821.34" x2="53.20" y2="821.34" stroke="#000" stroke-width="1.5" stroke-linecap="butt"/>
<text x="47.20" y="825.64" font-size="12" text-anchor="end" font-weight="bold" font-style="normal" >0.2</text>
<line x1="48.40" y1="774.28" x2="53.20" y2="774.28" stroke="#000" stroke-width="1.5" stroke-linecap="butt"/>
<text x="47.20" y="778.58" font-size="12" text-anchor="end" font-weight="bold" font-style="normal" >0.4</text>
<line x1="48.40" y1="727.22" x2="53.20" y2="727.22" stroke="#000" stroke-width="1.5" stroke-linecap="butt"/>
<text x="47.20" y="731.52" font-size="12" text-anchor="end" font-weight="bold" font-style="normal" >0.6</text>
<line x1="53.20" y1="868.40" x2="53.20" y2="873.20" stroke="#000" stroke-width="1.5" stroke-linecap="butt"/>
<text x="53.20" y="886.70" font-size="12" text-anchor="middle" font-weight="bold" font-style="normal" >0</text>
<line x1="84.08" y1="868.40" x2="84.08" y2="873.20" stroke="#000" stroke-width="1.5" stroke-linecap="butt"/>
<text x="84.08" y="886.70" font-size="12" text-anchor="middle" font-weight="bold" font-style="normal" >2</text>
<line x1="114.96" y1="868.40" x2="114.96" y2="873.20" stroke="#000" stroke-width="1.5" stroke-linecap="butt"/>
<text x="114.96" y="886.70" font-size="12" text-anchor="middle" font-weight="bold" font-style="normal" >4</text>
<line x1="145.84" y1="868.40" x2="145.84" y2="873.20" stroke="#000" stroke-width="1.5" stroke-linecap="butt"/>
<text x="145.84" y="886.70" font-size="12" text-anchor="middle" font-weight="bold" font-style="normal" >6</text>
<line x1="176.72" y1="868.40" x2="176.72" y2="873.20" stroke="#000" stroke-width="1.5" stroke-linecap="butt"/>
<text x="176.72" y="886.70" font-size="12" text-anchor="middle" font-weight="bold" font-style="normal" >8</text>
<line x1="207.60" y1="868.40" x2="207.60" y2="873.20" stroke="#000" stroke-width="1.5" stroke-linecap="butt"/>
<text x="207.60" y="886.70" font-size="12" text-anchor="middle" font-weight="bold" font-style="normal" >10</text>
<line x1="238.48" y1="868.40" x2="238.48" y2="873.20" stroke="#000" stroke-width="1.5" stroke-linecap="butt"/>
<text x="238.48" y="886.70" font-size="12" text-anchor="middle" font-weight="bold" font-style="normal" >12</text>
<line x1="269.36" y1="868.40" x2="269.36" y2="873.20" stroke="#000" stroke-width="1.5" stroke-linecap="butt"/>
<text x="269.36" y="886.70" font-size="12" text-anchor="middle" font-weight="bold" font-style="normal" >14</text>
<line x1="300.24" y1="868.40" x2="300.24" y2="873.20" stroke="#000" stroke-width="1.5" stroke-linecap="butt"/>
<text x="300.24" y="886.70" font-size="12" text-anchor="middle" font-weight="bold" font-style="normal" >16</text>
<text x="178.00" y="904.80" font-size="15.25" text-anchor="middle" font-weight="normal" font-style="normal" >Time (Days)</text>
<text x="16" y="782" font-size="14" text-anchor="middle" transform="rotate(-90 16 782)">size (mm<tspan font-size="12" dy="-5.2">3</tspan><tspan dy="5.2">)</tspan></text>
<line x1="161.28" y1="813.45" x2="161.28" y2="801.70" stroke="#000" stroke-width="1.45" stroke-linecap="butt"/>
<line x1="157.88" y1="813.45" x2="164.68" y2="813.45" stroke="#000" stroke-width="1.45" stroke-linecap="butt"/>
<line x1="157.88" y1="801.70" x2="164.68" y2="801.70" stroke="#000" stroke-width="1.45" stroke-linecap="butt"/>
<line x1="207.60" y1="783.37" x2="207.60" y2="773.03" stroke="#000" stroke-width="1.45" stroke-linecap="butt"/>
<line x1="204.20" y1="783.37" x2="211.00" y2="783.37" stroke="#000" stroke-width="1.45" stroke-linecap="butt"/>
<line x1="204.20" y1="773.03" x2="211.00" y2="773.03" stroke="#000" stroke-width="1.45" stroke-linecap="butt"/>
<line x1="284.80" y1="757.75" x2="284.80" y2="717.10" stroke="#000" stroke-width="1.45" stroke-linecap="butt"/>
<line x1="281.40" y1="757.75" x2="288.20" y2="757.75" stroke="#000" stroke-width="1.45" stroke-linecap="butt"/>
<line x1="281.40" y1="717.10" x2="288.20" y2="717.10" stroke="#000" stroke-width="1.45" stroke-linecap="butt"/>
<line x1="161.28" y1="841.65" x2="161.28" y2="836.00" stroke="#000" stroke-width="1.45" stroke-linecap="butt"/>
<line x1="157.88" y1="841.65" x2="164.68" y2="841.65" stroke="#000" stroke-width="1.45" stroke-linecap="butt"/>
<line x1="157.88" y1="836.00" x2="164.68" y2="836.00" stroke="#000" stroke-width="1.45" stroke-linecap="butt"/>
<line x1="207.60" y1="821.91" x2="207.60" y2="808.75" stroke="#000" stroke-width="1.45" stroke-linecap="butt"/>
<line x1="204.20" y1="821.91" x2="211.00" y2="821.91" stroke="#000" stroke-width="1.45" stroke-linecap="butt"/>
<line x1="204.20" y1="808.75" x2="211.00" y2="808.75" stroke="#000" stroke-width="1.45" stroke-linecap="butt"/>
<line x1="284.80" y1="806.63" x2="284.80" y2="758.93" stroke="#000" stroke-width="1.45" stroke-linecap="butt"/>
<line x1="281.40" y1="806.63" x2="288.20" y2="806.63" stroke="#000" stroke-width="1.45" stroke-linecap="butt"/>
<line x1="281.40" y1="758.93" x2="288.20" y2="758.93" stroke="#000" stroke-width="1.45" stroke-linecap="butt"/>
<line x1="161.28" y1="847.99" x2="161.28" y2="842.35" stroke="#000" stroke-width="1.45" stroke-linecap="butt"/>
<line x1="157.88" y1="847.99" x2="164.68" y2="847.99" stroke="#000" stroke-width="1.45" stroke-linecap="butt"/>
<line x1="157.88" y1="842.35" x2="164.68" y2="842.35" stroke="#000" stroke-width="1.45" stroke-linecap="butt"/>
<line x1="207.60" y1="832.95" x2="207.60" y2="825.90" stroke="#000" stroke-width="1.45" stroke-linecap="butt"/>
<line x1="204.20" y1="832.95" x2="211.00" y2="832.95" stroke="#000" stroke-width="1.45" stroke-linecap="butt"/>
<line x1="204.20" y1="825.90" x2="211.00" y2="825.90" stroke="#000" stroke-width="1.45" stroke-linecap="butt"/>
<line x1="284.80" y1="806.63" x2="284.80" y2="784.54" stroke="#000" stroke-width="1.45" stroke-linecap="butt"/>
<line x1="281.40" y1="806.63" x2="288.20" y2="806.63" stroke="#000" stroke-width="1.45" stroke-linecap="butt"/>
<line x1="281.40" y1="784.54" x2="288.20" y2="784.54" stroke="#000" stroke-width="1.45" stroke-linecap="butt"/>
<polyline points="53.20,856.45 114.96,832.95 161.28,807.57 207.60,778.20 284.80,737.78" fill="none" stroke="#000" stroke-width="1.55" stroke-linejoin="round"/>
<polyline points="53.20,856.45 114.96,849.87 161.28,838.83 207.60,815.33 284.80,771.85" fill="none" stroke="#000" stroke-width="1.55" stroke-linejoin="round"/>
<polyline points="53.20,856.45 114.96,851.05 161.28,845.17 207.60,829.43 284.80,788.30" fill="none" stroke="#000" stroke-width="1.55" stroke-linejoin="round"/>
<circle cx="53.20" cy="856.45" r="3.3" fill="#000"/>
<circle cx="114.96" cy="832.95" r="3.3" fill="#000"/>
<circle cx="161.28" cy="807.57" r="3.3" fill="#000"/>
<circle cx="207.60" cy="778.20" r="3.3" fill="#000"/>
<circle cx="284.80" cy="737.78" r="3.3" fill="#000"/>
<rect x="49.90" y="853.15" width="6.6" height="6.6" fill="#000"/>
<rect x="111.66" y="846.57" width="6.6" height="6.6" fill="#000"/>
<rect x="157.98" y="835.53" width="6.6" height="6.6" fill="#000"/>
<rect x="204.30" y="812.03" width="6.6" height="6.6" fill="#000"/>
<rect x="281.50" y="768.55" width="6.6" height="6.6" fill="#000"/>
<polygon points="53.20,852.66 49.57,859.25 56.83,859.25" fill="#000"/>
<polygon points="114.96,847.25 111.33,853.85 118.59,853.85" fill="#000"/>
<polygon points="161.28,841.38 157.65,847.98 164.91,847.98" fill="#000"/>
<polygon points="207.60,825.63 203.97,832.23 211.23,832.23" fill="#000"/>
<polygon points="284.80,784.51 281.17,791.11 288.43,791.11" fill="#000"/>
<text x="63.50" y="721.60" font-size="12" text-anchor="start" font-weight="normal" font-style="italic" >Drug removal:</text>
<text x="73.60" y="734.60" font-size="12" text-anchor="start" font-weight="normal" font-style="italic" >3 x 48h</text>
<text x="167.00" y="719.30" font-size="12" text-anchor="start" font-weight="normal" font-style="italic" >7-day</text>
<text x="568.70" y="679.40" font-size="18" text-anchor="middle" font-weight="normal" font-style="normal" >UM-SCC-74B</text>
<line x1="578.10" y1="704.93" x2="578.10" y2="869.95" stroke="#000" stroke-width="1.5" stroke-linecap="butt" stroke-dasharray="1.5 2.95"/>
<line x1="598.65" y1="704.93" x2="598.65" y2="869.95" stroke="#000" stroke-width="1.5" stroke-linecap="butt" stroke-dasharray="1.5 2.95"/>
<line x1="454.80" y1="704.93" x2="454.80" y2="870.65" stroke="#000" stroke-width="1.5" stroke-linecap="butt"/>
<line x1="454.10" y1="869.95" x2="702.10" y2="869.95" stroke="#000" stroke-width="1.5" stroke-linecap="butt"/>
<line x1="450.00" y1="869.95" x2="454.80" y2="869.95" stroke="#000" stroke-width="1.5" stroke-linecap="butt"/>
<text x="448.60" y="874.25" font-size="12" text-anchor="end" font-weight="bold" font-style="normal" >0.0</text>
<line x1="450.00" y1="822.87" x2="454.80" y2="822.87" stroke="#000" stroke-width="1.5" stroke-linecap="butt"/>
<text x="448.60" y="827.17" font-size="12" text-anchor="end" font-weight="bold" font-style="normal" >0.2</text>
<line x1="450.00" y1="775.79" x2="454.80" y2="775.79" stroke="#000" stroke-width="1.5" stroke-linecap="butt"/>
<text x="448.60" y="780.09" font-size="12" text-anchor="end" font-weight="bold" font-style="normal" >0.4</text>
<line x1="450.00" y1="728.71" x2="454.80" y2="728.71" stroke="#000" stroke-width="1.5" stroke-linecap="butt"/>
<text x="448.60" y="733.01" font-size="12" text-anchor="end" font-weight="bold" font-style="normal" >0.6</text>
<line x1="454.80" y1="869.95" x2="454.80" y2="874.75" stroke="#000" stroke-width="1.5" stroke-linecap="butt"/>
<text x="454.80" y="888.25" font-size="12" text-anchor="middle" font-weight="bold" font-style="normal" >0</text>
<line x1="495.90" y1="869.95" x2="495.90" y2="874.75" stroke="#000" stroke-width="1.5" stroke-linecap="butt"/>
<text x="495.90" y="888.25" font-size="12" text-anchor="middle" font-weight="bold" font-style="normal" >2</text>
<line x1="537.00" y1="869.95" x2="537.00" y2="874.75" stroke="#000" stroke-width="1.5" stroke-linecap="butt"/>
<text x="537.00" y="888.25" font-size="12" text-anchor="middle" font-weight="bold" font-style="normal" >4</text>
<line x1="578.10" y1="869.95" x2="578.10" y2="874.75" stroke="#000" stroke-width="1.5" stroke-linecap="butt"/>
<text x="578.10" y="888.25" font-size="12" text-anchor="middle" font-weight="bold" font-style="normal" >6</text>
<line x1="619.20" y1="869.95" x2="619.20" y2="874.75" stroke="#000" stroke-width="1.5" stroke-linecap="butt"/>
<text x="619.20" y="888.25" font-size="12" text-anchor="middle" font-weight="bold" font-style="normal" >8</text>
<line x1="660.30" y1="869.95" x2="660.30" y2="874.75" stroke="#000" stroke-width="1.5" stroke-linecap="butt"/>
<text x="660.30" y="888.25" font-size="12" text-anchor="middle" font-weight="bold" font-style="normal" >10</text>
<line x1="701.40" y1="869.95" x2="701.40" y2="874.75" stroke="#000" stroke-width="1.5" stroke-linecap="butt"/>
<text x="701.40" y="888.25" font-size="12" text-anchor="middle" font-weight="bold" font-style="normal" >12</text>
<text x="583.40" y="907.00" font-size="15.25" text-anchor="middle" font-weight="normal" font-style="normal" >Time (Days)</text>
<text x="423" y="784" font-size="14" text-anchor="middle" transform="rotate(-90 423 784)">size (mm<tspan font-size="12" dy="-5.2">3</tspan><tspan dy="5.2">)</tspan></text>
<line x1="537.00" y1="859.31" x2="537.00" y2="856.52" stroke="#000" stroke-width="1.45" stroke-linecap="butt"/>
<line x1="533.60" y1="859.31" x2="540.40" y2="859.31" stroke="#000" stroke-width="1.45" stroke-linecap="butt"/>
<line x1="533.60" y1="856.52" x2="540.40" y2="856.52" stroke="#000" stroke-width="1.45" stroke-linecap="butt"/>
<line x1="578.10" y1="849.99" x2="578.10" y2="832.29" stroke="#000" stroke-width="1.45" stroke-linecap="butt"/>
<line x1="574.70" y1="849.99" x2="581.50" y2="849.99" stroke="#000" stroke-width="1.45" stroke-linecap="butt"/>
<line x1="574.70" y1="832.29" x2="581.50" y2="832.29" stroke="#000" stroke-width="1.45" stroke-linecap="butt"/>
<line x1="619.20" y1="830.42" x2="619.20" y2="804.33" stroke="#000" stroke-width="1.45" stroke-linecap="butt"/>
<line x1="615.80" y1="830.42" x2="622.60" y2="830.42" stroke="#000" stroke-width="1.45" stroke-linecap="butt"/>
<line x1="615.80" y1="804.33" x2="622.60" y2="804.33" stroke="#000" stroke-width="1.45" stroke-linecap="butt"/>
<line x1="660.30" y1="799.90" x2="660.30" y2="771.47" stroke="#000" stroke-width="1.45" stroke-linecap="butt"/>
<line x1="656.90" y1="799.90" x2="663.70" y2="799.90" stroke="#000" stroke-width="1.45" stroke-linecap="butt"/>
<line x1="656.90" y1="771.47" x2="663.70" y2="771.47" stroke="#000" stroke-width="1.45" stroke-linecap="butt"/>
<line x1="680.85" y1="774.97" x2="680.85" y2="740.25" stroke="#000" stroke-width="1.45" stroke-linecap="butt"/>
<line x1="677.45" y1="774.97" x2="684.25" y2="774.97" stroke="#000" stroke-width="1.45" stroke-linecap="butt"/>
<line x1="677.45" y1="740.25" x2="684.25" y2="740.25" stroke="#000" stroke-width="1.45" stroke-linecap="butt"/>
<line x1="680.85" y1="806.42" x2="680.85" y2="791.74" stroke="#000" stroke-width="1.45" stroke-linecap="butt"/>
<line x1="677.45" y1="806.42" x2="684.25" y2="806.42" stroke="#000" stroke-width="1.45" stroke-linecap="butt"/>
<line x1="677.45" y1="791.74" x2="684.25" y2="791.74" stroke="#000" stroke-width="1.45" stroke-linecap="butt"/>
<line x1="537.00" y1="862.81" x2="537.00" y2="859.08" stroke="#000" stroke-width="1.45" stroke-linecap="butt"/>
<line x1="533.60" y1="862.81" x2="540.40" y2="862.81" stroke="#000" stroke-width="1.45" stroke-linecap="butt"/>
<line x1="533.60" y1="859.08" x2="540.40" y2="859.08" stroke="#000" stroke-width="1.45" stroke-linecap="butt"/>
<line x1="578.10" y1="857.45" x2="578.10" y2="853.72" stroke="#000" stroke-width="1.45" stroke-linecap="butt"/>
<line x1="574.70" y1="857.45" x2="581.50" y2="857.45" stroke="#000" stroke-width="1.45" stroke-linecap="butt"/>
<line x1="574.70" y1="853.72" x2="581.50" y2="853.72" stroke="#000" stroke-width="1.45" stroke-linecap="butt"/>
<line x1="619.20" y1="850.23" x2="619.20" y2="839.98" stroke="#000" stroke-width="1.45" stroke-linecap="butt"/>
<line x1="615.80" y1="850.23" x2="622.60" y2="850.23" stroke="#000" stroke-width="1.45" stroke-linecap="butt"/>
<line x1="615.80" y1="839.98" x2="622.60" y2="839.98" stroke="#000" stroke-width="1.45" stroke-linecap="butt"/>
<line x1="660.30" y1="821.80" x2="660.30" y2="807.12" stroke="#000" stroke-width="1.45" stroke-linecap="butt"/>
<line x1="656.90" y1="821.80" x2="663.70" y2="821.80" stroke="#000" stroke-width="1.45" stroke-linecap="butt"/>
<line x1="656.90" y1="807.12" x2="663.70" y2="807.12" stroke="#000" stroke-width="1.45" stroke-linecap="butt"/>
<polyline points="454.80,865.61 516.45,861.41 537.00,857.92 578.10,841.14 619.20,817.37 660.30,785.92 680.85,757.73" fill="none" stroke="#000" stroke-width="1.55" stroke-linejoin="round"/>
<polyline points="454.80,865.61 516.45,862.11 537.00,859.78 578.10,855.12 598.65,851.62 680.85,799.20" fill="none" stroke="#000" stroke-width="1.55" stroke-linejoin="round"/>
<polyline points="454.80,865.61 516.45,862.58 537.00,860.95 578.10,855.59 598.65,851.62 619.20,845.10 660.30,814.81" fill="none" stroke="#000" stroke-width="1.55" stroke-linejoin="round"/>
<circle cx="454.80" cy="865.61" r="3.3" fill="#000"/>
<circle cx="516.45" cy="861.41" r="3.3" fill="#000"/>
<circle cx="537.00" cy="857.92" r="3.3" fill="#000"/>
<circle cx="578.10" cy="841.14" r="3.3" fill="#000"/>
<circle cx="619.20" cy="817.37" r="3.3" fill="#000"/>
<circle cx="660.30" cy="785.92" r="3.3" fill="#000"/>
<circle cx="680.85" cy="757.73" r="3.3" fill="#000"/>
<rect x="451.50" y="862.31" width="6.6" height="6.6" fill="#000"/>
<rect x="513.15" y="858.81" width="6.6" height="6.6" fill="#000"/>
<rect x="533.70" y="856.48" width="6.6" height="6.6" fill="#000"/>
<rect x="595.35" y="848.33" width="6.6" height="6.6" fill="#000"/>
<rect x="677.55" y="795.90" width="6.6" height="6.6" fill="#000"/>
<polygon points="454.80,861.81 451.17,868.41 458.43,868.41" fill="#000"/>
<polygon points="516.45,858.78 512.82,865.38 520.08,865.38" fill="#000"/>
<polygon points="537.00,857.15 533.37,863.75 540.63,863.75" fill="#000"/>
<polygon points="578.10,851.79 574.47,858.39 581.73,858.39" fill="#000"/>
<polygon points="598.65,847.83 595.02,854.43 602.28,854.43" fill="#000"/>
<polygon points="619.20,841.31 615.57,847.91 622.83,847.91" fill="#000"/>
<polygon points="660.30,811.02 656.67,817.62 663.93,817.62" fill="#000"/>
<text x="467.50" y="719.20" font-size="12" text-anchor="start" font-weight="normal" font-style="italic" >Drug removal:</text>
<text x="479.00" y="731.70" font-size="12" text-anchor="start" font-weight="normal" font-style="italic" >3 x 48h</text>
<text x="608.50" y="719.20" font-size="12" text-anchor="start" font-weight="normal" font-style="italic" >7-day</text>
<line x1="285.50" y1="819.60" x2="302.50" y2="819.60" stroke="#000" stroke-width="1.55" stroke-linecap="butt"/>
<circle cx="294.00" cy="819.60" r="3.3" fill="#000"/>
<text x="312.00" y="824.20" font-size="13" text-anchor="start" font-weight="normal" font-style="normal" >Untreated</text>
<line x1="285.50" y1="838.10" x2="302.50" y2="838.10" stroke="#000" stroke-width="1.55" stroke-linecap="butt"/>
<rect x="290.70" y="834.80" width="6.6" height="6.6" fill="#000"/>
<text x="312.00" y="842.70" font-size="13" text-anchor="start" font-weight="normal" font-style="normal" >7-day incubation</text>
<line x1="285.50" y1="856.10" x2="302.50" y2="856.10" stroke="#000" stroke-width="1.55" stroke-linecap="butt"/>
<polygon points="294.00,852.31 290.37,858.90 297.63,858.90" fill="#000"/>
<text x="312.00" y="860.70" font-size="13" text-anchor="start" font-weight="normal" font-style="normal" >3x48h incubation</text>
</svg>
</body></html>
